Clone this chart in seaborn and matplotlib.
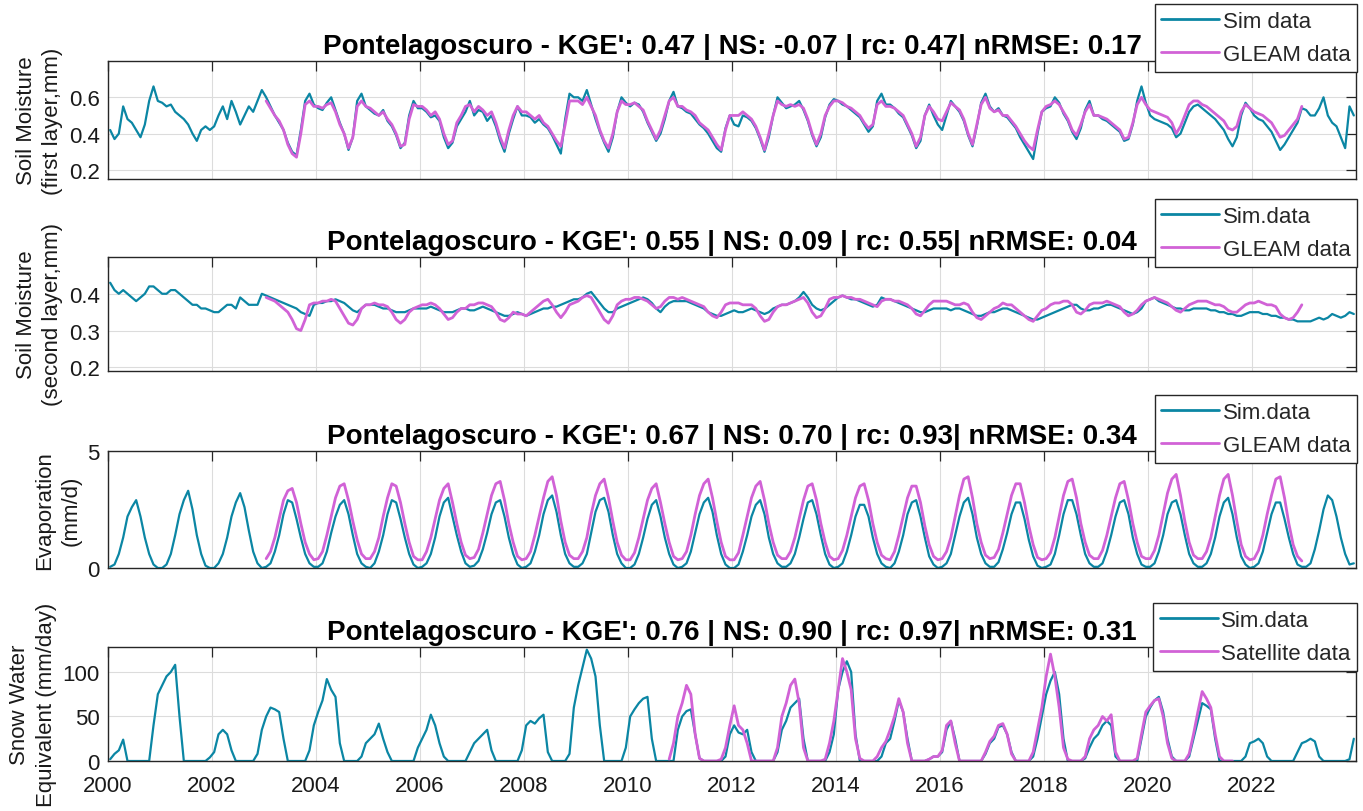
import numpy as np
import pandas as pd
import matplotlib
matplotlib.use("Agg")
import matplotlib.pyplot as plt
import seaborn as sns

# ---------------------------------------------------------------------------
# Monthly values, one row of 12 (Jan..Dec) per year
# ---------------------------------------------------------------------------
sim_years = list(range(2000, 2024))           # simulation: Jan 2000 - Dec 2023
gleam_years = list(range(2003, 2023))         # GLEAM: Jan 2003 - Dec 2022

# Soil moisture, first layer
sm1_sim = [
    [0.42, 0.37, 0.40, 0.55, 0.48, 0.46, 0.42, 0.38, 0.45, 0.58, 0.66, 0.58],
    [0.57, 0.55, 0.56, 0.52, 0.50, 0.48, 0.45, 0.40, 0.36, 0.42, 0.44, 0.42],
    [0.44, 0.50, 0.55, 0.48, 0.58, 0.52, 0.45, 0.50, 0.55, 0.52, 0.58, 0.64],
    [0.60, 0.55, 0.50, 0.46, 0.42, 0.35, 0.30, 0.28, 0.42, 0.58, 0.62, 0.56],
    [0.54, 0.53, 0.57, 0.60, 0.53, 0.46, 0.40, 0.31, 0.38, 0.58, 0.62, 0.55],
    [0.53, 0.51, 0.50, 0.53, 0.47, 0.44, 0.39, 0.32, 0.35, 0.50, 0.58, 0.54],
    [0.54, 0.52, 0.49, 0.50, 0.47, 0.38, 0.32, 0.35, 0.44, 0.48, 0.52, 0.58],
    [0.50, 0.53, 0.52, 0.47, 0.50, 0.44, 0.36, 0.30, 0.40, 0.48, 0.55, 0.50],
    [0.50, 0.49, 0.46, 0.48, 0.45, 0.43, 0.39, 0.34, 0.29, 0.48, 0.62, 0.60],
    [0.60, 0.58, 0.64, 0.56, 0.48, 0.41, 0.35, 0.30, 0.38, 0.52, 0.60, 0.57],
    [0.55, 0.57, 0.56, 0.52, 0.46, 0.41, 0.36, 0.40, 0.48, 0.58, 0.63, 0.55],
    [0.54, 0.52, 0.51, 0.48, 0.45, 0.43, 0.40, 0.36, 0.32, 0.30, 0.43, 0.50],
    [0.45, 0.44, 0.50, 0.49, 0.47, 0.43, 0.37, 0.30, 0.38, 0.50, 0.60, 0.57],
    [0.54, 0.55, 0.56, 0.58, 0.53, 0.47, 0.39, 0.33, 0.38, 0.49, 0.56, 0.59],
    [0.58, 0.56, 0.55, 0.53, 0.51, 0.49, 0.45, 0.41, 0.44, 0.58, 0.62, 0.56],
    [0.56, 0.54, 0.51, 0.49, 0.44, 0.39, 0.32, 0.36, 0.50, 0.56, 0.50, 0.45],
    [0.42, 0.50, 0.58, 0.55, 0.52, 0.47, 0.39, 0.33, 0.44, 0.57, 0.62, 0.55],
    [0.52, 0.54, 0.50, 0.49, 0.46, 0.43, 0.38, 0.34, 0.30, 0.26, 0.40, 0.52],
    [0.54, 0.55, 0.60, 0.57, 0.51, 0.47, 0.41, 0.37, 0.43, 0.53, 0.58, 0.50],
    [0.50, 0.48, 0.47, 0.45, 0.43, 0.41, 0.36, 0.37, 0.45, 0.58, 0.66, 0.57],
    [0.50, 0.48, 0.47, 0.46, 0.45, 0.43, 0.38, 0.40, 0.46, 0.52, 0.55, 0.56],
    [0.54, 0.52, 0.50, 0.48, 0.45, 0.42, 0.37, 0.33, 0.38, 0.50, 0.57, 0.54],
    [0.50, 0.48, 0.47, 0.44, 0.41, 0.36, 0.31, 0.34, 0.38, 0.42, 0.46, 0.54],
    [0.53, 0.50, 0.50, 0.54, 0.60, 0.50, 0.46, 0.44, 0.38, 0.32, 0.55, 0.50],
]
sm1_gleam = [
    [0.58, 0.54, 0.50, 0.47, 0.42, 0.34, 0.29, 0.27, 0.40, 0.56, 0.58, 0.55],
    [0.55, 0.54, 0.56, 0.57, 0.52, 0.45, 0.40, 0.32, 0.38, 0.55, 0.58, 0.55],
    [0.54, 0.52, 0.50, 0.52, 0.48, 0.45, 0.40, 0.33, 0.34, 0.48, 0.56, 0.55],
    [0.55, 0.53, 0.50, 0.52, 0.48, 0.40, 0.34, 0.36, 0.46, 0.50, 0.55, 0.56],
    [0.52, 0.55, 0.53, 0.50, 0.52, 0.46, 0.38, 0.32, 0.42, 0.50, 0.55, 0.52],
    [0.52, 0.50, 0.48, 0.50, 0.46, 0.44, 0.40, 0.36, 0.33, 0.45, 0.58, 0.58],
    [0.58, 0.56, 0.60, 0.55, 0.50, 0.42, 0.36, 0.32, 0.40, 0.52, 0.58, 0.56],
    [0.56, 0.57, 0.55, 0.53, 0.47, 0.42, 0.37, 0.42, 0.50, 0.58, 0.60, 0.55],
    [0.55, 0.53, 0.52, 0.50, 0.46, 0.44, 0.42, 0.38, 0.34, 0.31, 0.42, 0.50],
    [0.50, 0.50, 0.52, 0.50, 0.48, 0.44, 0.38, 0.31, 0.40, 0.50, 0.58, 0.56],
    [0.55, 0.56, 0.55, 0.56, 0.54, 0.48, 0.40, 0.34, 0.40, 0.50, 0.55, 0.58],
    [0.58, 0.57, 0.55, 0.54, 0.52, 0.50, 0.46, 0.43, 0.45, 0.56, 0.58, 0.55],
    [0.55, 0.54, 0.52, 0.50, 0.45, 0.40, 0.33, 0.38, 0.50, 0.55, 0.52, 0.48],
    [0.47, 0.52, 0.57, 0.55, 0.53, 0.48, 0.40, 0.34, 0.45, 0.56, 0.60, 0.54],
    [0.52, 0.53, 0.50, 0.50, 0.47, 0.44, 0.40, 0.36, 0.33, 0.31, 0.42, 0.52],
    [0.55, 0.56, 0.58, 0.56, 0.52, 0.48, 0.42, 0.39, 0.45, 0.52, 0.56, 0.50],
    [0.50, 0.49, 0.48, 0.46, 0.44, 0.42, 0.37, 0.38, 0.46, 0.56, 0.60, 0.56],
    [0.53, 0.52, 0.51, 0.50, 0.49, 0.46, 0.40, 0.44, 0.50, 0.56, 0.58, 0.58],
    [0.56, 0.55, 0.53, 0.51, 0.49, 0.47, 0.43, 0.42, 0.44, 0.52, 0.56, 0.54],
    [0.52, 0.51, 0.50, 0.48, 0.46, 0.42, 0.38, 0.39, 0.42, 0.45, 0.48, 0.55],
]

# Soil moisture, second layer
sm2_sim = [
    [0.430, 0.410, 0.400, 0.410, 0.400, 0.390, 0.380, 0.390, 0.400, 0.420, 0.420, 0.410],
    [0.400, 0.400, 0.410, 0.410, 0.400, 0.390, 0.380, 0.370, 0.370, 0.360, 0.360, 0.355],
    [0.350, 0.350, 0.360, 0.370, 0.370, 0.360, 0.390, 0.380, 0.370, 0.370, 0.370, 0.400],
    [0.395, 0.390, 0.385, 0.380, 0.375, 0.370, 0.365, 0.360, 0.350, 0.345, 0.340, 0.370],
    [0.375, 0.375, 0.380, 0.380, 0.385, 0.380, 0.375, 0.365, 0.355, 0.350, 0.360, 0.370],
    [0.370, 0.370, 0.365, 0.360, 0.360, 0.355, 0.350, 0.350, 0.350, 0.355, 0.360, 0.360],
    [0.360, 0.360, 0.365, 0.360, 0.355, 0.350, 0.350, 0.350, 0.355, 0.360, 0.360, 0.355],
    [0.355, 0.360, 0.365, 0.360, 0.355, 0.350, 0.345, 0.340, 0.340, 0.345, 0.350, 0.345],
    [0.340, 0.345, 0.350, 0.355, 0.360, 0.360, 0.365, 0.365, 0.370, 0.375, 0.380, 0.385],
    [0.385, 0.390, 0.400, 0.405, 0.390, 0.375, 0.360, 0.350, 0.350, 0.360, 0.365, 0.370],
    [0.375, 0.380, 0.385, 0.390, 0.385, 0.375, 0.360, 0.350, 0.365, 0.375, 0.380, 0.380],
    [0.380, 0.380, 0.375, 0.370, 0.365, 0.360, 0.350, 0.345, 0.340, 0.340, 0.345, 0.350],
    [0.355, 0.350, 0.350, 0.355, 0.360, 0.355, 0.350, 0.345, 0.350, 0.360, 0.365, 0.370],
    [0.370, 0.375, 0.380, 0.390, 0.405, 0.390, 0.370, 0.360, 0.355, 0.360, 0.370, 0.380],
    [0.390, 0.395, 0.390, 0.385, 0.385, 0.380, 0.375, 0.370, 0.365, 0.370, 0.390, 0.385],
    [0.385, 0.380, 0.375, 0.370, 0.365, 0.360, 0.355, 0.350, 0.350, 0.355, 0.360, 0.360],
    [0.360, 0.360, 0.355, 0.360, 0.360, 0.355, 0.350, 0.345, 0.340, 0.340, 0.345, 0.350],
    [0.350, 0.355, 0.360, 0.360, 0.355, 0.350, 0.345, 0.340, 0.335, 0.330, 0.330, 0.335],
    [0.340, 0.345, 0.350, 0.355, 0.360, 0.365, 0.370, 0.370, 0.360, 0.355, 0.355, 0.360],
    [0.360, 0.365, 0.370, 0.370, 0.365, 0.360, 0.355, 0.350, 0.345, 0.350, 0.360, 0.380],
    [0.385, 0.390, 0.380, 0.375, 0.370, 0.365, 0.360, 0.360, 0.355, 0.355, 0.360, 0.360],
    [0.360, 0.360, 0.355, 0.355, 0.350, 0.350, 0.345, 0.345, 0.340, 0.340, 0.345, 0.350],
    [0.350, 0.350, 0.345, 0.345, 0.340, 0.340, 0.335, 0.335, 0.330, 0.330, 0.325, 0.325],
    [0.325, 0.325, 0.330, 0.335, 0.330, 0.335, 0.345, 0.340, 0.335, 0.340, 0.350, 0.345],
]
sm2_gleam = [
    [0.390, 0.385, 0.380, 0.370, 0.360, 0.350, 0.330, 0.305, 0.300, 0.330, 0.370, 0.375],
    [0.375, 0.380, 0.380, 0.385, 0.380, 0.360, 0.340, 0.320, 0.315, 0.330, 0.360, 0.370],
    [0.370, 0.375, 0.370, 0.370, 0.365, 0.350, 0.330, 0.320, 0.330, 0.350, 0.360, 0.365],
    [0.370, 0.370, 0.375, 0.370, 0.360, 0.345, 0.330, 0.335, 0.350, 0.360, 0.360, 0.370],
    [0.370, 0.375, 0.375, 0.370, 0.365, 0.350, 0.330, 0.325, 0.335, 0.350, 0.345, 0.345],
    [0.340, 0.350, 0.360, 0.370, 0.380, 0.385, 0.370, 0.350, 0.335, 0.350, 0.370, 0.375],
    [0.380, 0.390, 0.395, 0.390, 0.370, 0.350, 0.330, 0.320, 0.340, 0.370, 0.380, 0.385],
    [0.385, 0.390, 0.390, 0.385, 0.380, 0.370, 0.360, 0.365, 0.380, 0.390, 0.390, 0.385],
    [0.390, 0.385, 0.380, 0.375, 0.370, 0.365, 0.350, 0.340, 0.335, 0.350, 0.370, 0.375],
    [0.375, 0.375, 0.370, 0.370, 0.370, 0.360, 0.340, 0.325, 0.330, 0.350, 0.365, 0.370],
    [0.370, 0.375, 0.380, 0.385, 0.390, 0.375, 0.350, 0.335, 0.340, 0.360, 0.385, 0.390],
    [0.390, 0.395, 0.390, 0.390, 0.385, 0.385, 0.380, 0.375, 0.370, 0.365, 0.380, 0.385],
    [0.385, 0.380, 0.380, 0.375, 0.370, 0.360, 0.345, 0.340, 0.355, 0.370, 0.380, 0.380],
    [0.380, 0.380, 0.375, 0.370, 0.370, 0.375, 0.370, 0.350, 0.335, 0.330, 0.340, 0.350],
    [0.360, 0.365, 0.375, 0.370, 0.370, 0.360, 0.350, 0.340, 0.330, 0.325, 0.340, 0.355],
    [0.360, 0.370, 0.375, 0.375, 0.380, 0.380, 0.370, 0.350, 0.345, 0.355, 0.370, 0.375],
    [0.375, 0.375, 0.380, 0.375, 0.370, 0.365, 0.350, 0.340, 0.345, 0.355, 0.370, 0.380],
    [0.385, 0.390, 0.385, 0.380, 0.375, 0.365, 0.355, 0.350, 0.360, 0.370, 0.375, 0.380],
    [0.380, 0.380, 0.375, 0.370, 0.370, 0.365, 0.355, 0.350, 0.350, 0.360, 0.370, 0.375],
    [0.375, 0.380, 0.375, 0.370, 0.370, 0.365, 0.345, 0.335, 0.330, 0.335, 0.350, 0.370],
]

# Evaporation (mm/d)
evap_sim = [
    [0.05, 0.15, 0.6, 1.3, 2.2, 2.6, 2.9, 2.2, 1.3, 0.6, 0.15, 0.0],
    [0.0, 0.15, 0.6, 1.4, 2.3, 2.9, 3.3, 2.5, 1.4, 0.6, 0.1, 0.0],
    [0.0, 0.2, 0.6, 1.3, 2.2, 2.8, 3.2, 2.6, 1.6, 0.7, 0.2, 0.0],
    [0.05, 0.2, 0.7, 1.4, 2.3, 2.9, 2.8, 2.1, 1.3, 0.6, 0.2, 0.05],
    [0.05, 0.2, 0.7, 1.5, 2.2, 2.7, 2.9, 2.3, 1.4, 0.6, 0.2, 0.05],
    [0.0, 0.2, 0.7, 1.4, 2.3, 2.9, 2.8, 2.1, 1.3, 0.6, 0.15, 0.0],
    [0.05, 0.2, 0.6, 1.3, 2.2, 2.8, 3.0, 2.2, 1.4, 0.7, 0.2, 0.05],
    [0.1, 0.3, 0.8, 1.5, 2.3, 2.8, 2.9, 2.2, 1.3, 0.6, 0.15, 0.0],
    [0.05, 0.2, 0.7, 1.4, 2.3, 2.9, 3.1, 2.4, 1.4, 0.6, 0.2, 0.05],
    [0.05, 0.2, 0.6, 1.5, 2.4, 2.9, 3.0, 2.4, 1.4, 0.6, 0.2, 0.0],
    [0.0, 0.15, 0.6, 1.3, 2.1, 2.7, 2.9, 2.2, 1.3, 0.6, 0.15, 0.0],
    [0.05, 0.2, 0.7, 1.5, 2.3, 2.8, 3.0, 2.4, 1.4, 0.6, 0.15, 0.0],
    [0.0, 0.15, 0.7, 1.4, 2.2, 2.7, 2.9, 2.3, 1.3, 0.6, 0.2, 0.05],
    [0.05, 0.2, 0.6, 1.3, 2.1, 2.8, 2.9, 2.3, 1.4, 0.6, 0.15, 0.0],
    [0.05, 0.2, 0.7, 1.4, 2.2, 2.7, 2.7, 2.2, 1.3, 0.6, 0.2, 0.05],
    [0.0, 0.2, 0.7, 1.4, 2.3, 2.8, 2.9, 2.2, 1.3, 0.5, 0.15, 0.0],
    [0.05, 0.2, 0.6, 1.4, 2.2, 2.8, 3.0, 2.3, 1.3, 0.6, 0.2, 0.05],
    [0.05, 0.25, 0.8, 1.5, 2.3, 2.8, 2.8, 2.1, 1.2, 0.5, 0.1, 0.0],
    [0.05, 0.15, 0.6, 1.4, 2.3, 2.9, 2.9, 2.3, 1.4, 0.6, 0.2, 0.05],
    [0.05, 0.2, 0.7, 1.4, 2.2, 2.8, 2.9, 2.3, 1.3, 0.6, 0.15, 0.05],
    [0.05, 0.2, 0.7, 1.4, 2.3, 2.8, 2.9, 2.3, 1.4, 0.6, 0.2, 0.05],
    [0.05, 0.2, 0.6, 1.3, 2.2, 2.8, 3.0, 2.3, 1.3, 0.5, 0.15, 0.0],
    [0.05, 0.2, 0.7, 1.5, 2.3, 2.8, 2.8, 2.1, 1.3, 0.6, 0.15, 0.05],
    [0.05, 0.2, 0.8, 1.6, 2.5, 3.1, 2.9, 2.2, 1.3, 0.6, 0.15, 0.2],
]
evap_gleam = [
    [0.40, 0.70, 1.3, 2.1, 2.9, 3.3, 3.4, 2.8, 1.9, 1.1, 0.60, 0.35],
    [0.40, 0.70, 1.4, 2.2, 3.0, 3.5, 3.6, 2.9, 2.0, 1.2, 0.60, 0.40],
    [0.40, 0.70, 1.3, 2.2, 3.0, 3.6, 3.5, 2.8, 1.9, 1.1, 0.50, 0.35],
    [0.35, 0.70, 1.3, 2.1, 2.9, 3.4, 3.6, 2.8, 1.9, 1.1, 0.55, 0.40],
    [0.45, 0.80, 1.5, 2.3, 3.1, 3.6, 3.7, 2.9, 1.9, 1.1, 0.50, 0.35],
    [0.40, 0.70, 1.4, 2.2, 3.0, 3.7, 3.9, 3.1, 2.0, 1.1, 0.55, 0.40],
    [0.40, 0.70, 1.3, 2.3, 3.1, 3.6, 3.8, 3.0, 2.0, 1.1, 0.55, 0.35],
    [0.35, 0.65, 1.3, 2.1, 2.9, 3.4, 3.6, 2.8, 1.9, 1.1, 0.50, 0.35],
    [0.40, 0.70, 1.4, 2.3, 3.1, 3.6, 3.8, 3.0, 2.0, 1.1, 0.50, 0.35],
    [0.35, 0.65, 1.4, 2.2, 3.0, 3.5, 3.7, 2.9, 1.9, 1.1, 0.55, 0.40],
    [0.40, 0.70, 1.3, 2.1, 2.9, 3.5, 3.6, 2.9, 1.9, 1.1, 0.50, 0.35],
    [0.40, 0.75, 1.4, 2.2, 3.0, 3.5, 3.6, 2.9, 1.9, 1.1, 0.55, 0.40],
    [0.35, 0.70, 1.4, 2.2, 3.0, 3.5, 3.5, 2.8, 1.8, 1.0, 0.50, 0.35],
    [0.40, 0.70, 1.3, 2.2, 3.1, 3.8, 3.9, 3.0, 1.9, 1.1, 0.55, 0.40],
    [0.45, 0.80, 1.5, 2.3, 3.1, 3.6, 3.6, 2.8, 1.8, 1.0, 0.45, 0.35],
    [0.40, 0.65, 1.3, 2.2, 3.1, 3.7, 3.8, 3.0, 1.9, 1.1, 0.55, 0.40],
    [0.40, 0.75, 1.4, 2.2, 3.0, 3.6, 3.7, 2.9, 1.9, 1.1, 0.50, 0.40],
    [0.40, 0.75, 1.4, 2.3, 3.2, 3.8, 4.0, 3.1, 2.0, 1.1, 0.55, 0.40],
    [0.40, 0.70, 1.3, 2.2, 3.1, 3.8, 4.0, 3.1, 2.0, 1.0, 0.50, 0.35],
    [0.40, 0.75, 1.4, 2.3, 3.1, 3.8, 3.9, 3.0, 1.9, 1.0, 0.50, 0.30],
]

# Snow water equivalent
swe_sim = [
    [2, 8, 12, 24, 0, 0, 0, 0, 0, 0, 40, 75],
    [85, 95, 100, 108, 50, 0, 0, 0, 0, 0, 0, 4],
    [10, 30, 35, 30, 12, 0, 0, 0, 0, 0, 8, 35],
    [50, 60, 58, 55, 25, 0, 0, 0, 0, 0, 12, 40],
    [55, 68, 92, 80, 72, 20, 0, 0, 0, 0, 5, 20],
    [25, 30, 42, 25, 10, 0, 0, 0, 0, 0, 0, 15],
    [25, 35, 52, 40, 20, 5, 0, 0, 0, 0, 0, 10],
    [20, 25, 30, 35, 12, 0, 0, 0, 0, 0, 0, 12],
    [40, 45, 42, 48, 52, 10, 0, 0, 0, 0, 8, 60],
    [85, 105, 125, 115, 95, 40, 0, 0, 0, 0, 0, 15],
    [50, 58, 65, 70, 72, 25, 0, 0, 0, 0, 0, 35],
    [50, 56, 58, 30, 3, 0, 0, 0, 0, 0, 5, 30],
    [40, 32, 30, 35, 10, 0, 0, 0, 0, 0, 10, 35],
    [45, 60, 65, 70, 25, 0, 0, 0, 0, 0, 10, 30],
    [80, 100, 112, 100, 30, 0, 0, 0, 0, 0, 5, 20],
    [25, 45, 68, 55, 25, 0, 0, 0, 0, 2, 5, 5],
    [10, 35, 45, 25, 0, 0, 0, 0, 0, 0, 8, 20],
    [25, 38, 40, 30, 10, 0, 0, 0, 0, 5, 25, 50],
    [75, 90, 100, 75, 25, 0, 0, 0, 0, 3, 15, 25],
    [30, 40, 45, 40, 5, 0, 0, 0, 0, 0, 25, 50],
    [60, 68, 72, 55, 25, 5, 0, 0, 0, 5, 25, 45],
    [65, 62, 58, 25, 0, 0, 0, 0, 0, 0, 5, 20],
    [22, 25, 20, 5, 0, 0, 0, 0, 0, 0, 10, 20],
    [22, 25, 22, 5, 0, 0, 0, 0, 0, 0, 2, 25],
]
# Satellite SWE: Oct 2010 - Aug 2021
swe_sat_start = (2010, 9)
swe_sat = [
    2, 20, 50,
    65, 85, 75, 30, 3, 0, 0, 0, 0, 2, 15, 40,
    62, 40, 35, 20, 0, 0, 0, 0, 0, 0, 15, 50,
    65, 85, 92, 65, 15, 0, 0, 0, 0, 2, 20, 45,
    80, 115, 100, 80, 25, 3, 0, 0, 0, 5, 15, 22,
    35, 50, 70, 55, 20, 0, 0, 0, 0, 2, 5, 5,
    12, 40, 45, 20, 0, 0, 0, 0, 0, 0, 10, 22,
    28, 40, 42, 30, 8, 0, 0, 0, 0, 10, 35, 60,
    95, 120, 95, 60, 15, 2, 0, 0, 0, 5, 25, 35,
    40, 50, 45, 52, 10, 0, 0, 0, 0, 3, 30, 55,
    62, 68, 70, 50, 20, 3, 0, 0, 0, 8, 30, 55,
    78, 70, 60, 30, 5, 0, 0, 0,
]

titles = [
    "Pontelagoscuro - KGE': 0.47 | NS: -0.07 | rc: 0.47| nRMSE: 0.17",
    "Pontelagoscuro - KGE': 0.55 | NS: 0.09 | rc: 0.55| nRMSE: 0.04",
    "Pontelagoscuro - KGE': 0.67 | NS: 0.70 | rc: 0.93| nRMSE: 0.34",
    "Pontelagoscuro - KGE': 0.76 | NS: 0.90 | rc: 0.97| nRMSE: 0.31",
]
ylabels = [
    "Soil Moisture\n(first layer,mm)",
    "Soil Moisture\n(second layer,mm)",
    "Evaporation\n(mm/d)",
    "Snow Water\nEquivalent (mm/day)",
]
sim_labels = ["Sim data", "Sim.data", "Sim.data", "Sim.data"]
obs_labels = ["GLEAM data", "GLEAM data", "GLEAM data", "Satellite data"]
year_ticks = list(range(2000, 2023, 2))


def monthly_frame(values, first_year, first_month=0):
    """Decimal-year time axis at mid-month for a flat list of monthly values."""
    flat = np.ravel(np.array(values, dtype=float))
    idx = np.arange(first_month, first_month + flat.size)
    return pd.DataFrame({"t": first_year + (idx + 0.5) / 12.0, "v": flat})


panels = [
    (monthly_frame(sm1_sim, sim_years[0]), monthly_frame(sm1_gleam, gleam_years[0]),
     (0.15, 0.80), [0.2, 0.4, 0.6]),
    (monthly_frame(sm2_sim, sim_years[0]), monthly_frame(sm2_gleam, gleam_years[0]),
     (0.19, 0.50), [0.2, 0.3, 0.4]),
    (monthly_frame(evap_sim, sim_years[0]), monthly_frame(evap_gleam, gleam_years[0]),
     (0.0, 5.0), [0, 5]),
    (monthly_frame(swe_sim, sim_years[0]), monthly_frame(swe_sat, *swe_sat_start),
     (0.0, 128.0), [0, 50, 100]),
]

# ---------------------------------------------------------------------------
# Styling
# ---------------------------------------------------------------------------
sns.set_theme(style="white")
plt.rcParams["font.family"] = ["Liberation Sans", "DejaVu Sans"]
plt.rcParams["axes.unicode_minus"] = False

SIM_COLOR = "#0b86a4"
OBS_COLOR = "#d162d6"
INK = "#262626"

W, H = 1363, 812
fig = plt.figure(figsize=(W / 100, H / 100), dpi=100, facecolor="white")

# axes boxes in pixel coordinates: (top, bottom)
boxes = [(62, 180), (258, 372), (452, 569), (648, 762)]
legend_tops = [5, 200, 396, 604]
x_left, x_right = 108, 1356

for i, ((sim_df, obs_df, ylim, yticks), (top, bottom)) in enumerate(zip(panels, boxes)):
    ax = fig.add_axes([x_left / W, 1 - bottom / H, (x_right - x_left) / W, (bottom - top) / H])
    sns.lineplot(data=sim_df, x="t", y="v", ax=ax, color=SIM_COLOR, lw=1.6,
                 label=sim_labels[i])
    sns.lineplot(data=obs_df, x="t", y="v", ax=ax, color=OBS_COLOR, lw=2.0,
                 label=obs_labels[i])

    ax.set_xlim(2000, 2024)
    ax.set_ylim(*ylim)
    ax.set_xticks(year_ticks)
    ax.set_yticks(yticks)
    ax.grid(True, color="#dcdcdc", lw=0.8)
    ax.set_axisbelow(True)
    for sp in ax.spines.values():
        sp.set_color(INK)
        sp.set_linewidth(1.0)
    ax.tick_params(direction="in", length=7, width=0.9, top=True, right=True,
                   labelsize=16, pad=6, colors=INK, labelcolor="#1a1a1a")
    ax.tick_params(axis="x", pad=10)
    if i < 3:
        ax.tick_params(labelbottom=False)

    ax.set_xlabel("")
    ax.set_ylabel(ylabels[i], fontsize=16, linespacing=1.35, color="#1a1a1a")
    ax.set_title(titles[i], fontsize=20, fontweight="bold", pad=6, color="black")

    leg = ax.legend(loc="upper right",
                    bbox_to_anchor=(1357 / W, 1 - legend_tops[i] / H),
                    bbox_transform=fig.transFigure, fontsize=16, frameon=True,
                    fancybox=False, framealpha=1, edgecolor=INK, borderaxespad=0,
                    handlelength=2.6, handletextpad=0.15, labelspacing=0.55,
                    borderpad=0.3)
    leg.get_frame().set_linewidth(1.0)
    for line in leg.get_lines():
        line.set_linewidth(2.0)

fig.savefig("out.png", dpi=100, facecolor="white")
